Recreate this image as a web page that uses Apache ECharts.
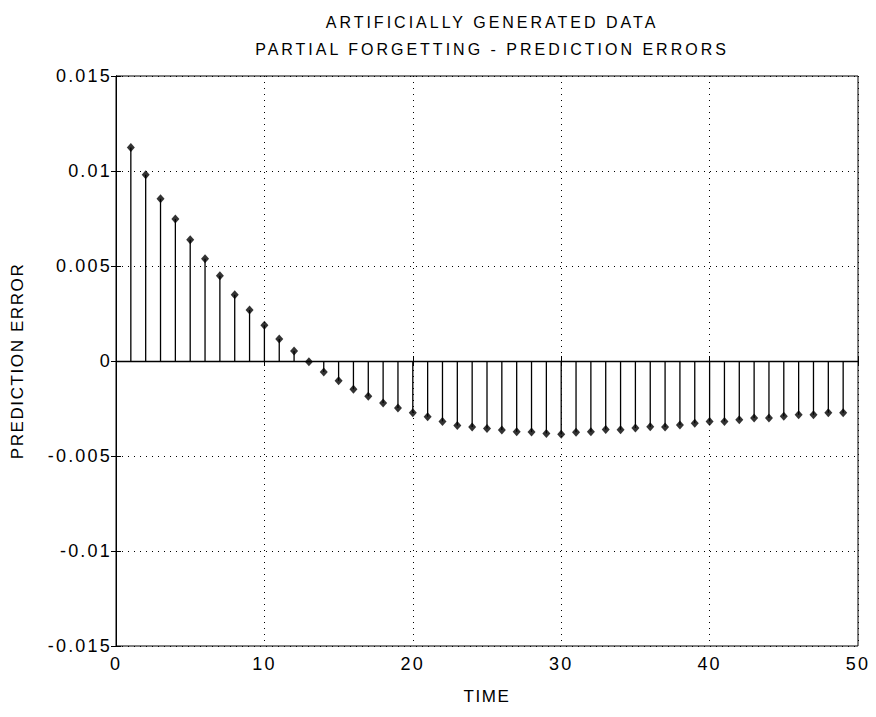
<!DOCTYPE html>
<html><head><meta charset="utf-8">
<script src="https://cdn.jsdelivr.net/npm/echarts@6/dist/echarts.min.js"></script>
<style>
html,body{margin:0;padding:0;background:#fff}
#c{width:876px;height:717px}
#c text[style*="16px"]{letter-spacing:3px}
#c text[style*="18px"]{letter-spacing:2.2px}
#c text[style*="17px"]{letter-spacing:1.6px}
</style>
</head><body><div id="c"></div>
<script>
const titleLines = ["ARTIFICIALLY GENERATED DATA", "PARTIAL FORGETTING - PREDICTION ERRORS"];
const xName = "TIME";
const yName = "PREDICTION ERROR";
const times = [1,2,3,4,5,6,7,8,9,10,11,12,13,14,15,16,17,18,19,20,21,22,23,24,25,26,27,28,29,30,31,32,33,34,35,36,37,38,39,40,41,42,43,44,45,46,47,48,49];
const errors = [0.01124,0.00980,0.00854,0.00747,0.00638,0.00538,0.00449,0.00349,0.00268,0.00188,0.00116,0.00052,-0.00004,-0.00058,-0.00104,-0.00149,-0.00185,-0.00221,-0.00248,-0.00272,-0.00293,-0.00318,-0.00339,-0.00348,-0.00355,-0.00363,-0.00372,-0.00374,-0.00381,-0.00385,-0.00375,-0.00372,-0.00360,-0.00362,-0.00353,-0.00346,-0.00348,-0.00337,-0.00327,-0.00318,-0.00318,-0.00309,-0.00300,-0.00300,-0.00291,-0.00283,-0.00283,-0.00272,-0.00272];
const xTicks = [0,10,20,30,40,50];
const yTicks = [-0.015,-0.01,-0.005,0,0.005,0.01,0.015];

const pts = times.map((t,i)=>[t, errors[i]]);
const font = "Liberation Sans";
const chart = echarts.init(document.getElementById('c'), null, {renderer:'svg'});
const axisCommon = {
  axisLine:{show:true, lineStyle:{color:'#000', width:1}},
  axisTick:{show:true, inside:true, length:5, lineStyle:{color:'#000'}},
};
chart.setOption({
  animation:false,
  backgroundColor:'#fff',
  title:{
    text: titleLines.join('\n'),
    left: 487, top: 4, textAlign:'center',
    textStyle:{fontFamily:font, fontSize:16, fontWeight:'normal', color:'#000', lineHeight:27}
  },
  grid:{left:116, right:18, top:76, bottom:71, show:true, borderColor:'#000', borderWidth:1,
        containLabel:false, outerBoundsMode:'none'},
  xAxis:[{
    type:'value', min:xTicks[0], max:xTicks[xTicks.length-1], interval:10, position:'bottom',
    name:xName, nameLocation:'middle', nameGap:42,
    nameTextStyle:{fontFamily:font, fontSize:17, color:'#000'},
    axisLabel:{fontFamily:font, fontSize:18, color:'#000', margin:9},
    splitLine:{show:true, lineStyle:{color:'#000', type:[1,5], width:1}},
    ...axisCommon
  },{
    type:'value', min:xTicks[0], max:xTicks[xTicks.length-1], interval:10, position:'top',
    axisLabel:{show:false}, splitLine:{show:false}, ...axisCommon
  }],
  yAxis:[{
    type:'value', min:yTicks[0], max:yTicks[yTicks.length-1], interval:0.005, position:'left',
    name:yName, nameLocation:'middle', nameGap:90, nameRotate:90,
    nameTextStyle:{fontFamily:font, fontSize:17, color:'#000'},
    axisLabel:{fontFamily:font, fontSize:18, color:'#000', margin:4,
      formatter:v=>{const r=Math.round(v*1000)/1000; return String(r);}},
    splitLine:{show:true, lineStyle:{color:'#000', type:[1,5], width:1}},
    ...axisCommon
  },{
    type:'value', min:yTicks[0], max:yTicks[yTicks.length-1], interval:0.005, position:'right',
    axisLabel:{show:false}, splitLine:{show:false}, ...axisCommon
  }],
  series:[{
    type:'custom',
    data: pts,
    renderItem:(params, api)=>{
      const p0 = api.coord([api.value(0), 0]);
      const p1 = api.coord([api.value(0), api.value(1)]);
      return {type:'line', shape:{x1:p0[0],y1:p0[1],x2:p1[0],y2:p1[1]}, style:{stroke:'#000', lineWidth:1.3}};
    },
    markLine:{silent:true, symbol:'none', label:{show:false},
      lineStyle:{color:'#000', type:'solid', width:1.3},
      data:[[{coord:[0,0]},{coord:[50,0]}]]},
    z:2
  },{
    type:'scatter', data: pts, symbol:'diamond', symbolSize:[8,9],
    itemStyle:{color:'#000'}, z:3
  }]
});
</script></body></html>
